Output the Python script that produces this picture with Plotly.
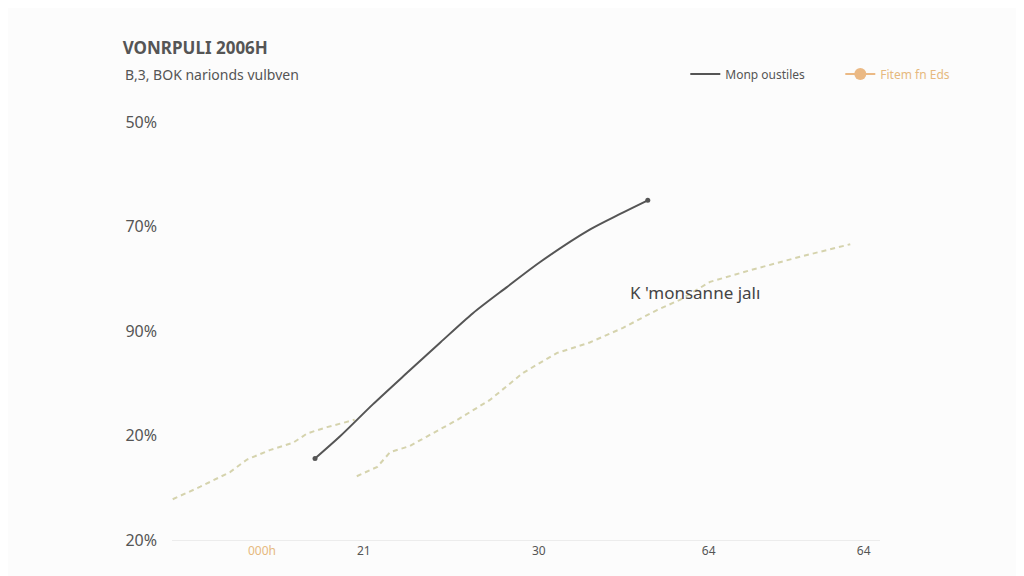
import plotly.graph_objects as go

# y positions 0..4 carry the (oddly ordered) percent labels from the picture
y_tickvals = [0, 1, 2, 3, 4]
y_ticktext = ["20%", "20%", "90%", "70%", "50%"]

x_tickvals = [12.7, 27.1, 51.8, 75.8, 97.7]
x_ticktext = ["<span style='color:#e6b97e'>000h</span>", "21", "30", "64", "64"]

# solid dark series
dark_x = [20.2, 23.7, 28.4, 33.2, 37.9, 42.5, 47.3, 52.0, 59.0, 63.3, 67.2]
dark_y = [0.78, 0.99, 1.30, 1.60, 1.89, 2.17, 2.42, 2.66, 2.97, 3.12, 3.25]

# dashed series (two pieces with a break)
dash_x = [0.1, 4.0, 8.2, 10.6, 13.8, 17.1, 19.1, 21.9, 25.8, None,
          26.1, 29.0, 30.8, 33.6, 36.0, 40.3, 44.9, 49.6, 54.4, 59.0,
          63.7, 68.5, 71.8, 76.0, 81.6, 88.7, 95.8]
dash_y = [0.39, 0.51, 0.65, 0.77, 0.86, 0.93, 1.02, 1.08, 1.15, None,
          0.61, 0.70, 0.84, 0.90, 0.99, 1.15, 1.34, 1.60, 1.79, 1.89,
          2.03, 2.20, 2.30, 2.47, 2.58, 2.71, 2.83]

gray = "#555555"
bg = "#fcfcfc"
fig = go.Figure()

fig.add_trace(go.Scatter(x=dash_x, y=dash_y, mode="lines", showlegend=False,
                         line=dict(color="#d5d3ad", width=2, dash="5px,4px")))
fig.add_trace(go.Scatter(x=dark_x, y=dark_y, mode="lines", name="Monp oustiles",
                         line=dict(color=gray, width=2, shape="spline", smoothing=0.8)))
fig.add_trace(go.Scatter(x=[dark_x[0], dark_x[-1]], y=[dark_y[0], dark_y[-1]],
                         mode="markers", showlegend=False,
                         marker=dict(color=gray, size=5)))
# legend entry for the second series
fig.add_trace(go.Scatter(x=[None], y=[None], mode="lines+markers",
                         name="<span style='color:#e6b97e'>Fitem fn Eds</span>",
                         line=dict(color="#ebb984", width=2),
                         marker=dict(color="#ebb984", size=12)))

fig.add_annotation(x=73.9, y=2.37, text="K 'monsanne jalı", showarrow=False,
                   font=dict(size=17, color="#444444"))
fig.add_annotation(xref="paper", yref="paper", x=-0.069, y=1.057,
                   xanchor="left", yanchor="middle", showarrow=False,
                   text="B,3, BOK narionds vulbven",
                   font=dict(size=14, color=gray))

fig.update_layout(
    width=1024, height=576,
    paper_bgcolor=bg, plot_bgcolor=bg,
    font=dict(family="Noto Sans, Open Sans, sans-serif", color=gray),
    margin=dict(l=164, r=152, t=92, b=44),
    title=dict(text="<b>VONRPULI 2006H</b>", x=0.112, xanchor="left",
               y=0.93, yanchor="middle", font=dict(size=17, color=gray)),
    legend=dict(orientation="h", x=0.725, y=1.059, xanchor="left", yanchor="middle",
                font=dict(size=12, color=gray), bgcolor="rgba(0,0,0,0)",
                entrywidth=110, entrywidthmode="pixels"),
    xaxis=dict(range=[0, 100], tickvals=x_tickvals, ticktext=x_ticktext,
               showgrid=False, zeroline=False, showline=True, linecolor="#ececec",
               tickfont=dict(size=12, color=gray, family="Liberation Sans Narrow, Noto Sans"),
               ticks=""),
    yaxis=dict(range=[0, 4.21], tickvals=y_tickvals, ticktext=y_ticktext,
               showgrid=False, zeroline=False, showline=False,
               tickfont=dict(size=16, color=gray), ticklabelstandoff=14, ticks=""),
)

fig.write_html("out.html")
